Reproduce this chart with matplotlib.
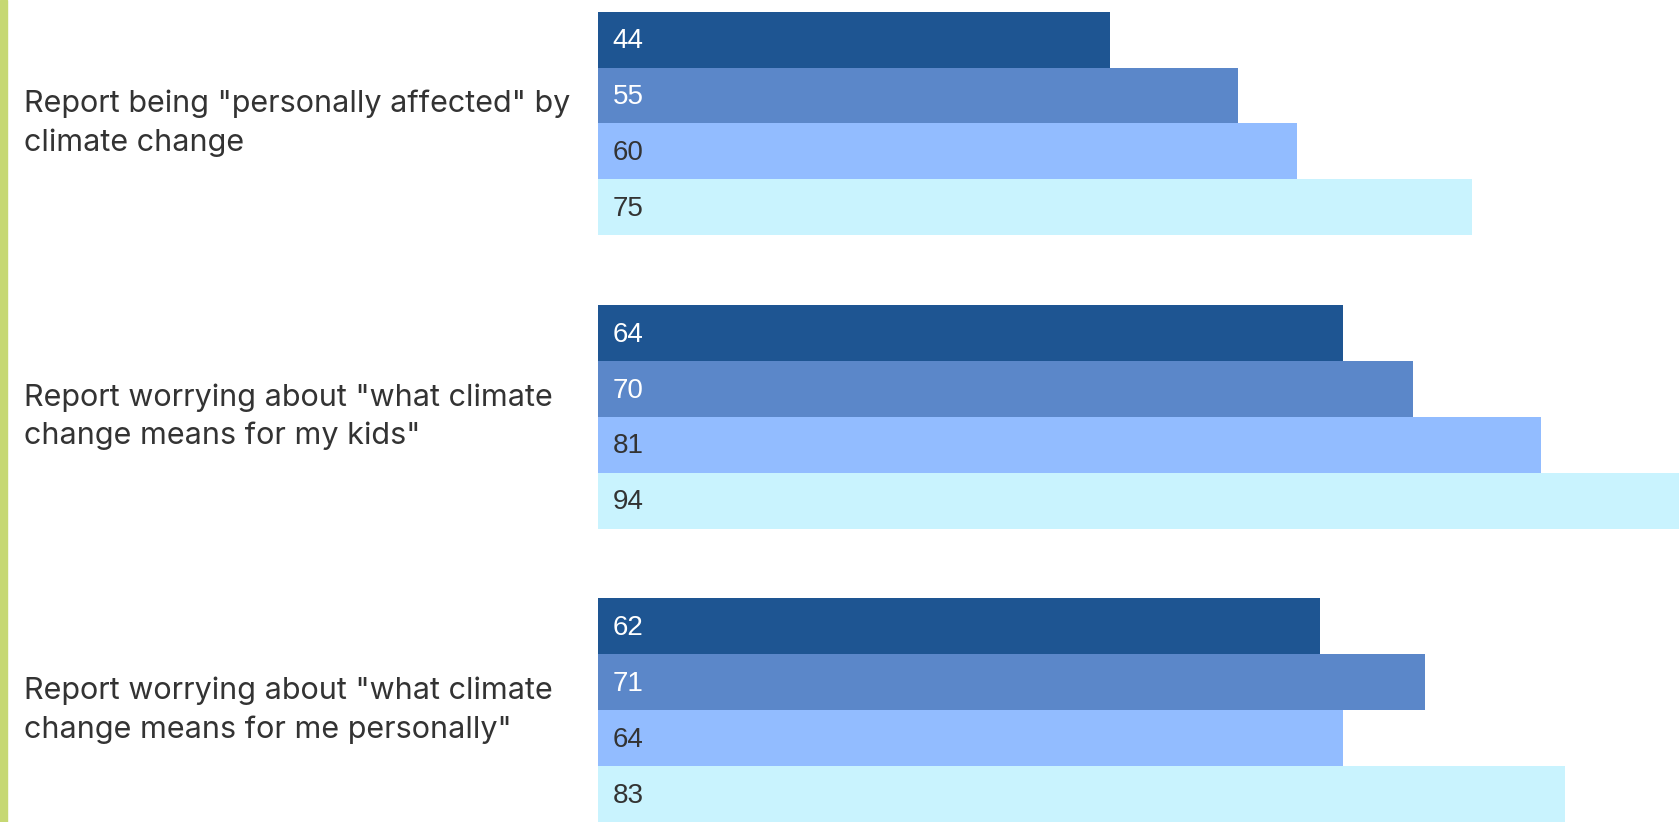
import matplotlib.pyplot as plt
import matplotlib.transforms as mtransforms
import numpy as np

# data
questions = ['Report being "personally affected" by\nclimate change',
             'Report worrying about "what climate\nchange means for my kids"',
             'Report worrying about "what climate\nchange means for me personally"']
series_1 = [44, 64, 62]
series_2 = [55, 70, 71]
series_3 = [60, 81, 64]
series_4 = [75, 94, 83]

colors = ['#1e5592', '#5b87c9', '#92bcff', '#c9f3fe']
text_colors = ['white', 'white', '#333333', '#333333']

fig = plt.figure(figsize=(16.79, 8.22), dpi=100)
fig.patch.set_facecolor('white')
ax = fig.add_axes([597.5 / 1679, 0, 1 - 597.5 / 1679, 1])

group_gap = 5.25
allseries = [series_1, series_2, series_3, series_4]
for i, vals in enumerate(allseries):
    ypos = np.arange(len(questions)) * group_gap + i
    ax.barh(ypos, vals, height=1.0, color=colors[i], edgecolor='none')
    for y, v in zip(ypos, vals):
        ax.text(1.3, y + 0.03, str(v), color=text_colors[i], va='center', ha='left',
                fontsize=20, family='Liberation Sans')

ax.set_xlim(0, 92.8)
ax.set_ylim(14.0, -0.71)
ax.axis('off')

# question labels on the left
trans = mtransforms.blended_transform_factory(fig.transFigure, ax.transData)
for g, q in enumerate(questions):
    ax.text(23.5 / 1679, g * group_gap + 1.5, q, transform=trans, ha='left', va='center',
            fontsize=22, color='#333333', family='Inter', linespacing=1.45)

# green strip on the left edge
fig.patches.append(plt.Rectangle((0, 0), 6.5 / 1679, 1, transform=fig.transFigure,
                                 color='#c6d873', zorder=5))

fig.savefig('out.png', dpi=100)
